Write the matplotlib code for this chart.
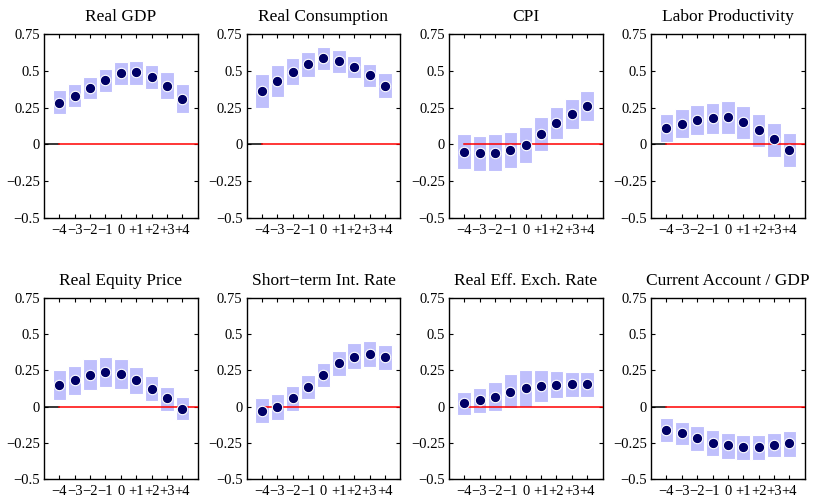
import numpy as np
import matplotlib
matplotlib.use("Agg")
import matplotlib.pyplot as plt

plt.rcParams['font.family'] = ['Liberation Serif', 'DejaVu Serif']

# Event-time horizon
horizon = np.arange(-4, 5)
tick_labels = ["\u22124", "\u22123", "\u22122", "\u22121", "0", "+1", "+2", "+3", "+4"]

titles = ["Real GDP", "Real Consumption", "CPI", "Labor Productivity",
          "Real Equity Price", "Short\u2212term Int. Rate", "Real Eff. Exch. Rate",
          "Current Account / GDP"]

# point estimates
gdp = [0.284, 0.330, 0.382, 0.439, 0.482, 0.489, 0.459, 0.398, 0.311]
cons = [0.362, 0.430, 0.492, 0.545, 0.584, 0.563, 0.526, 0.469, 0.396]
cpi = [-0.050, -0.061, -0.057, -0.039, -0.005, 0.070, 0.143, 0.207, 0.261]
prod = [0.114, 0.140, 0.167, 0.178, 0.183, 0.151, 0.098, 0.034, -0.039]
equity = [0.146, 0.181, 0.221, 0.239, 0.225, 0.181, 0.121, 0.058, -0.016]
rate = [-0.030, 0.000, 0.057, 0.133, 0.218, 0.298, 0.344, 0.362, 0.339]
reer = [0.023, 0.046, 0.069, 0.103, 0.126, 0.142, 0.149, 0.154, 0.154]
ca = [-0.161, -0.183, -0.218, -0.252, -0.268, -0.282, -0.282, -0.268, -0.252]

# band upper / lower
gdp_hi = [0.366, 0.411, 0.459, 0.509, 0.557, 0.566, 0.539, 0.489, 0.409]
gdp_lo = [0.205, 0.255, 0.305, 0.357, 0.405, 0.405, 0.377, 0.307, 0.216]
cons_hi = [0.476, 0.538, 0.583, 0.629, 0.664, 0.643, 0.602, 0.545, 0.483]
cons_lo = [0.247, 0.323, 0.400, 0.460, 0.506, 0.487, 0.449, 0.391, 0.313]
cpi_hi = [0.070, 0.059, 0.068, 0.086, 0.116, 0.184, 0.252, 0.309, 0.364]
cpi_lo = [-0.164, -0.180, -0.180, -0.159, -0.125, -0.043, 0.036, 0.105, 0.161]
prod_hi = [0.208, 0.243, 0.270, 0.284, 0.293, 0.261, 0.208, 0.146, 0.080]
prod_lo = [0.018, 0.046, 0.064, 0.069, 0.071, 0.039, -0.016, -0.085, -0.153]
equity_hi = [0.251, 0.283, 0.325, 0.341, 0.325, 0.272, 0.209, 0.132, 0.063]
equity_lo = [0.046, 0.077, 0.111, 0.132, 0.123, 0.088, 0.035, -0.028, -0.093]
rate_hi = [0.062, 0.085, 0.144, 0.218, 0.298, 0.385, 0.436, 0.452, 0.424]
rate_lo = [-0.115, -0.092, -0.030, 0.053, 0.138, 0.211, 0.257, 0.275, 0.252]
reer_hi = [0.099, 0.131, 0.172, 0.222, 0.252, 0.252, 0.245, 0.241, 0.236]
reer_lo = [-0.057, -0.041, -0.030, -0.011, 0.000, 0.034, 0.057, 0.069, 0.069]
ca_hi = [-0.078, -0.103, -0.135, -0.161, -0.179, -0.195, -0.195, -0.184, -0.168]
ca_lo = [-0.245, -0.268, -0.303, -0.339, -0.360, -0.367, -0.367, -0.351, -0.346]

points = [gdp, cons, cpi, prod, equity, rate, reer, ca]
highs = [gdp_hi, cons_hi, cpi_hi, prod_hi, equity_hi, rate_hi, reer_hi, ca_hi]
lows = [gdp_lo, cons_lo, cpi_lo, prod_lo, equity_lo, rate_lo, reer_lo, ca_lo]
black_stub = [True, True, False, True, True, False, False, True]

fig = plt.figure(figsize=(8.22, 4.98), dpi=100)

lefts = [0.0535, 0.300, 0.546, 0.792]
bottoms = [0.562, 0.038]
heights = [0.370, 0.364]
w = 0.187

for i in range(8):
    row, col = divmod(i, 4)
    ax = fig.add_axes([lefts[col], bottoms[row], w, heights[row]])
    hi = np.array(highs[i])
    lo = np.array(lows[i])
    ax.bar(horizon, hi - lo, bottom=lo, width=0.88, color="#bfbffc",
           edgecolor="white", linewidth=0.8, zorder=2)
    if black_stub[i]:
        ax.plot([-5, -4], [0, 0], color="black", lw=1.1, zorder=3)
    ax.plot([-4, 5], [0, 0], color="red", lw=1.1, zorder=3)
    ax.plot(horizon, points[i], "o", color="#000066", mec="white", mew=0.8,
            ms=7.5, zorder=4)
    ax.set_xlim(-5, 5)
    ax.set_ylim(-0.5, 0.75)
    ax.set_xticks(horizon)
    ax.set_xticklabels(tick_labels)
    ax.set_yticks([-0.5, -0.25, 0, 0.25, 0.5, 0.75])
    ax.set_yticklabels(["\u22120.5", "\u22120.25", "0", "0.25", "0.5", "0.75"])
    ax.tick_params(direction="in", top=True, right=True, length=3, width=0.8,
                   labelsize=10.5, pad=3, colors="black")
    ax.tick_params(axis="x", pad=4)
    for s in ax.spines.values():
        s.set_linewidth(1.0)
    ax.set_title(titles[i], fontsize=12.5, pad=9)

fig.savefig("out.png", dpi=100)
